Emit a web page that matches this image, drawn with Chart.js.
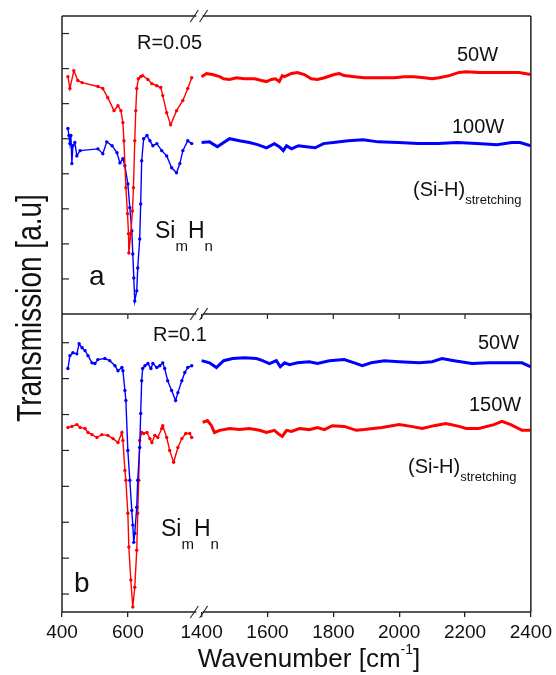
<!DOCTYPE html>
<html>
<head>
<meta charset="utf-8">
<script src="https://cdn.jsdelivr.net/npm/chart.js@4.4.1/dist/chart.umd.min.js"></script>
<style>
  html, body { margin: 0; padding: 0; background: #fff; }
  canvas { display: block; }
</style>
</head>
<body>
<canvas id="ftirChart" width="556" height="675"></canvas>
<script>
// x tick labels (wavenumber, cm-1) on the broken axis
const xTickLabels = [400, 600, 1400, 1600, 1800, 2000, 2200, 2400];

// panel a, R=0.05 : 50W (red)
const a50W_wn = [418, 424, 436, 448, 461, 509, 524, 539, 558, 570, 579, 585, 588, 594, 599, 602, 603, 609, 614, 617, 621, 624, 627, 632, 639, 645, 661, 673, 688, 700, 706, 718, 730, 748, 767, 782, 794,
  1400, 1415, 1433, 1455, 1467, 1485, 1506, 1530, 1561, 1582, 1597, 1612, 1624, 1636, 1645, 1652, 1673, 1691, 1712, 1733, 1752, 1773, 1803, 1818, 1833, 1864, 1894, 1924, 1955, 1985, 2015, 2045, 2076, 2100, 2121, 2152, 2182, 2203, 2242, 2288, 2333, 2364, 2400];
const a50W_T = [6.77, 6.43, 6.94, 6.66, 6.60, 6.49, 6.43, 6.17, 5.80, 5.94, 5.80, 5.46, 4.94, 3.60, 2.86, 2.29, 1.74, 2.29, 2.94, 3.60, 4.94, 5.80, 6.43, 6.71, 6.77, 6.80, 6.69, 6.57, 6.51, 6.46, 6.23, 5.74, 5.40, 5.80, 6.09, 6.43, 6.74,
  6.77, 6.86, 6.83, 6.77, 6.71, 6.69, 6.74, 6.71, 6.71, 6.66, 6.63, 6.69, 6.71, 6.63, 6.80, 6.77, 6.86, 6.89, 6.83, 6.71, 6.69, 6.74, 6.83, 6.86, 6.80, 6.77, 6.74, 6.74, 6.74, 6.74, 6.77, 6.77, 6.74, 6.71, 6.74, 6.80, 6.89, 6.91, 6.89, 6.89, 6.89, 6.89, 6.83];

// panel a, R=0.05 : 100W (blue)
const a100W_wn = [418, 421, 424, 427, 430, 433, 439, 445, 455, 509, 524, 536, 552, 567, 576, 585, 591, 600, 606, 612, 615, 618, 621, 627, 630, 636, 639, 642, 648, 658, 667, 676, 688, 703, 718, 733, 748, 758, 767, 782, 794,
  1400, 1424, 1448, 1467, 1485, 1515, 1545, 1570, 1597, 1621, 1636, 1648, 1658, 1673, 1694, 1718, 1745, 1770, 1800, 1845, 1891, 1936, 1997, 2058, 2118, 2176, 2236, 2297, 2342, 2367, 2400];
const a100W_T = [5.29, 5.09, 4.86, 5.09, 4.29, 4.80, 4.89, 4.51, 4.66, 4.71, 4.57, 4.91, 4.80, 4.60, 4.31, 4.43, 4.23, 3.71, 3.03, 2.37, 1.71, 1.03, 0.37, 0.66, 1.31, 2.14, 3.14, 4.37, 5.00, 5.09, 4.94, 4.80, 4.86, 4.66, 4.51, 4.17, 4.03, 4.29, 4.66, 4.94, 4.86,
  4.89, 4.91, 4.77, 4.89, 5.00, 4.94, 4.89, 4.83, 4.74, 4.86, 4.77, 4.66, 4.80, 4.71, 4.80, 4.77, 4.74, 4.86, 4.89, 4.94, 4.97, 4.91, 4.89, 4.86, 4.86, 4.89, 4.86, 4.83, 4.89, 4.89, 4.80];

// panel b, R=0.1 : 50W (blue)
const b50W_wn = [418, 424, 433, 445, 452, 461, 470, 479, 491, 500, 509, 530, 545, 561, 570, 582, 585, 591, 594, 600, 606, 612, 615, 618, 621, 627, 630, 636, 639, 642, 645, 652, 661, 670, 676, 688, 697, 706, 712, 721, 733, 745, 752, 764, 773, 782, 794,
  1400, 1424, 1445, 1467, 1494, 1530, 1567, 1585, 1606, 1627, 1639, 1652, 1667, 1691, 1727, 1752, 1788, 1833, 1864, 1888, 1915, 1955, 2000, 2061, 2100, 2130, 2167, 2221, 2273, 2318, 2373, 2400];
const b50W_T = [6.28, 6.64, 6.72, 6.69, 6.97, 6.86, 6.78, 6.64, 6.44, 6.42, 6.53, 6.56, 6.50, 6.36, 6.22, 6.31, 6.22, 5.67, 5.39, 4.00, 3.17, 2.33, 1.92, 1.44, 1.69, 2.42, 3.17, 4.08, 5.03, 5.94, 6.28, 6.36, 6.42, 6.28, 6.42, 6.31, 6.36, 6.44, 6.28, 5.94, 5.67, 5.39, 5.61, 5.94, 6.17, 6.31, 6.36,
  6.50, 6.44, 6.31, 6.50, 6.56, 6.58, 6.56, 6.50, 6.42, 6.50, 6.33, 6.44, 6.39, 6.44, 6.47, 6.42, 6.50, 6.53, 6.44, 6.36, 6.44, 6.50, 6.47, 6.44, 6.47, 6.56, 6.50, 6.42, 6.44, 6.44, 6.44, 6.33];

// panel b, R=0.1 : 150W (red)
const b150W_wn = [418, 430, 445, 455, 470, 479, 491, 506, 521, 539, 555, 570, 582, 585, 591, 594, 600, 603, 609, 615, 621, 627, 630, 633, 636, 642, 648, 658, 667, 673, 682, 691, 703, 706, 718, 727, 739, 752, 764, 776, 788, 794,
  1403, 1418, 1430, 1439, 1455, 1485, 1515, 1545, 1576, 1597, 1621, 1636, 1645, 1658, 1673, 1697, 1727, 1752, 1773, 1797, 1833, 1870, 1894, 1948, 2000, 2036, 2070, 2106, 2142, 2182, 2203, 2242, 2288, 2312, 2339, 2373, 2400];
const b150W_T = [4.64, 4.67, 4.72, 4.64, 4.61, 4.50, 4.44, 4.36, 4.44, 4.42, 4.33, 4.22, 4.50, 4.28, 3.44, 3.17, 2.25, 1.31, 0.39, -0.36, 0.19, 1.22, 2.25, 3.17, 4.28, 4.50, 4.47, 4.50, 4.33, 4.22, 4.42, 4.36, 4.61, 4.69, 4.36, 4.00, 3.67, 4.08, 4.33, 4.47, 4.47, 4.36,
  4.78, 4.83, 4.69, 4.50, 4.56, 4.61, 4.58, 4.61, 4.56, 4.50, 4.56, 4.44, 4.39, 4.56, 4.53, 4.61, 4.58, 4.64, 4.58, 4.69, 4.67, 4.56, 4.58, 4.64, 4.72, 4.67, 4.61, 4.69, 4.75, 4.67, 4.61, 4.61, 4.72, 4.81, 4.72, 4.56, 4.56];

// broken axis: 400-~810 and 1400-2400 share one linear scale
const BREAK_HI = 1400;
const SHIFT = 576;            // 1400 is drawn at axis value 824
function toAxis(wn) { return wn >= BREAK_HI ? wn - SHIFT : wn; }
function fromAxis(u) { return u >= 815 ? u + SHIFT : u; }

const RED = '#ff0000';
const BLUE = '#0000ff';
const FONT = 'Liberation Sans, Arial, sans-serif';

function segments(wn, vals, color, axis) {
    const low = [], high = [];
    wn.forEach((w, i) => {
        const p = { x: toAxis(w), y: vals[i] };
        if (w < BREAK_HI) low.push(p); else high.push(p);
    });
    return [
        { data: low, yAxisID: axis, borderColor: color, backgroundColor: color, borderWidth: 1.4,
          pointRadius: 1.7, pointBorderWidth: 0, pointBackgroundColor: color, tension: 0 },
        { data: high, yAxisID: axis, borderColor: color, borderWidth: 3, pointRadius: 0, tension: 0 }
    ];
}

const datasets = [
    ...segments(a50W_wn, a50W_T, RED, 'ya'),
    ...segments(a100W_wn, a100W_T, BLUE, 'ya'),
    ...segments(b50W_wn, b50W_T, BLUE, 'yb'),
    ...segments(b150W_wn, b150W_T, RED, 'yb')
];

// text pieces: [text, size, dy]
function drawRich(ctx, parts, x, y) {
    let cx = x;
    parts.forEach(([t, size, dy]) => {
        ctx.font = size + 'px ' + FONT;
        ctx.fillText(t, cx, y + (dy || 0));
        cx += ctx.measureText(t).width;
    });
}

const notes = [
    { x: 137, y: 43, parts: [['R=0.05', 20]] },
    { x: 457, y: 55, parts: [['50W', 20]] },
    { x: 452, y: 127, parts: [['100W', 20]] },
    { x: 413, y: 190, parts: [['(Si-H)', 20], ['stretching', 13, 10]] },
    { x: 155, y: 232, parts: [['Si', 23], ['m', 15, 15], ['H', 23], ['n', 15, 15]] },
    { x: 89, y: 277, parts: [['a', 28]] },
    { x: 153, y: 335, parts: [['R=0.1', 20]] },
    { x: 478, y: 343, parts: [['50W', 20]] },
    { x: 469, y: 405, parts: [['150W', 20]] },
    { x: 408, y: 467, parts: [['(Si-H)', 20], ['stretching', 13, 10]] },
    { x: 161, y: 530, parts: [['Si', 23], ['m', 15, 15], ['H', 23], ['n', 15, 15]] },
    { x: 74, y: 584, parts: [['b', 28]] }
];

const framePlugin = {
    id: 'frame',
    afterDraw(chart) {
        const ctx = chart.ctx;
        const xs = chart.scales.x;
        const ca = chart.chartArea;
        const ya = chart.scales.ya, yb = chart.scales.yb;
        const mid = Math.min(ya.bottom, yb.bottom);
        const gapL = xs.getPixelForValue(811) - 1;
        const gapR = xs.getPixelForValue(824) + 1;
        ctx.save();
        ctx.strokeStyle = '#222';
        ctx.lineWidth = 1.5;
        // horizontal lines with a gap at the break
        [ca.top, mid, ca.bottom].forEach(y => {
            ctx.beginPath();
            ctx.moveTo(ca.left, y); ctx.lineTo(gapL, y);
            ctx.moveTo(gapR, y); ctx.lineTo(ca.right, y);
            ctx.stroke();
            // break marks
            ctx.lineWidth = 1.1;
            [gapL - 2, gapR + 1].forEach(cx => {
                ctx.beginPath();
                ctx.moveTo(cx - 4, y + 6);
                ctx.lineTo(cx + 4, y - 6);
                ctx.stroke();
            });
            ctx.lineWidth = 1.5;
        });
        // verticals
        ctx.beginPath();
        ctx.moveTo(ca.left, ca.top); ctx.lineTo(ca.left, ca.bottom);
        ctx.moveTo(ca.right, ca.top); ctx.lineTo(ca.right, ca.bottom);
        ctx.stroke();
        // inner y ticks
        ctx.lineWidth = 1.2;
        [ya, yb].forEach(s => {
            s.ticks.forEach(t => {
                const y = s.getPixelForValue(t.value);
                if (y < s.top + 2 || y > s.bottom - 2) return;
                ctx.beginPath();
                ctx.moveTo(ca.left, y); ctx.lineTo(ca.left + 7, y);
                ctx.stroke();
            });
        });
        // ticks under the shared line between the panels
        xTickLabels.forEach(v => {
            if (v === 400) return;
            const x = xs.getPixelForValue(toAxis(v));
            ctx.beginPath();
            ctx.moveTo(x, mid); ctx.lineTo(x, mid + 5);
            ctx.stroke();
        });

        // annotations
        ctx.fillStyle = '#111';
        ctx.textBaseline = 'middle';
        ctx.textAlign = 'left';
        notes.forEach(n => drawRich(ctx, n.parts, n.x, n.y));

        // axis titles
        const main = 'Wavenumber [cm';
        const sup = '-1';
        ctx.font = '26px ' + FONT;
        const wMain = ctx.measureText(main).width;
        const wEnd = ctx.measureText(']').width;
        ctx.font = '14px ' + FONT;
        const wSup = ctx.measureText(sup).width;
        const tx = 309 - (wMain + wSup + wEnd) / 2;
        drawRich(ctx, [[main, 26], [sup, 14, -10], [']', 26]], tx, 660);

        // y title: glyphs a bit taller than wide, as in the source figure
        ctx.translate(41, 308);
        ctx.rotate(-Math.PI / 2);
        ctx.scale(1, 1.25);
        ctx.textAlign = 'center';
        ctx.textBaseline = 'alphabetic';
        ctx.font = '28px ' + FONT;
        ctx.fillText('Transmission [a.u]', 0, 0);
        ctx.restore();
    }
};

const ctx = document.getElementById('ftirChart').getContext('2d');
const chart = new Chart(ctx, {
    type: 'line',
    data: { datasets: datasets },
    options: {
        responsive: false,
        animation: false,
        layout: { padding: { left: 62, top: 16, right: 24, bottom: 0 } },
        plugins: { legend: { display: false }, tooltip: { enabled: false } },
        scales: {
            x: {
                type: 'linear',
                min: 400,
                max: 1824,
                afterBuildTicks: s => { s.ticks = xTickLabels.map(v => ({ value: toAxis(v) })); },
                afterFit: s => { s.height = 63; },
                ticks: {
                    autoSkip: false, maxRotation: 0, padding: 4, color: '#111',
                    font: { family: FONT, size: 19 },
                    callback: v => String(fromAxis(v))
                },
                grid: { drawOnChartArea: false, tickLength: 5, color: '#222', lineWidth: 1.3 },
                border: { display: false }
            },
            // listed bottom panel first: Chart.js stacks the first one lowest
            yb: {
                type: 'linear', position: 'left', stack: 'panels', stackWeight: 1,
                min: -0.5, max: 7.8,
                afterBuildTicks: s => { s.ticks = [0, 1, 2, 3, 4, 5, 6, 7].map(v => ({ value: v })); },
                afterFit: s => { s.width = 0; },
                ticks: { display: false }, grid: { display: false }, border: { display: false }
            },
            ya: {
                type: 'linear', position: 'left', stack: 'panels', stackWeight: 1,
                min: 0, max: 8.5,
                afterBuildTicks: s => { s.ticks = [1, 2, 3, 4, 5, 6, 7, 8].map(v => ({ value: v })); },
                afterFit: s => { s.width = 0; },
                ticks: { display: false }, grid: { display: false }, border: { display: false }
            }
        }
    },
    plugins: [framePlugin]
});
</script>
</body>
</html>
